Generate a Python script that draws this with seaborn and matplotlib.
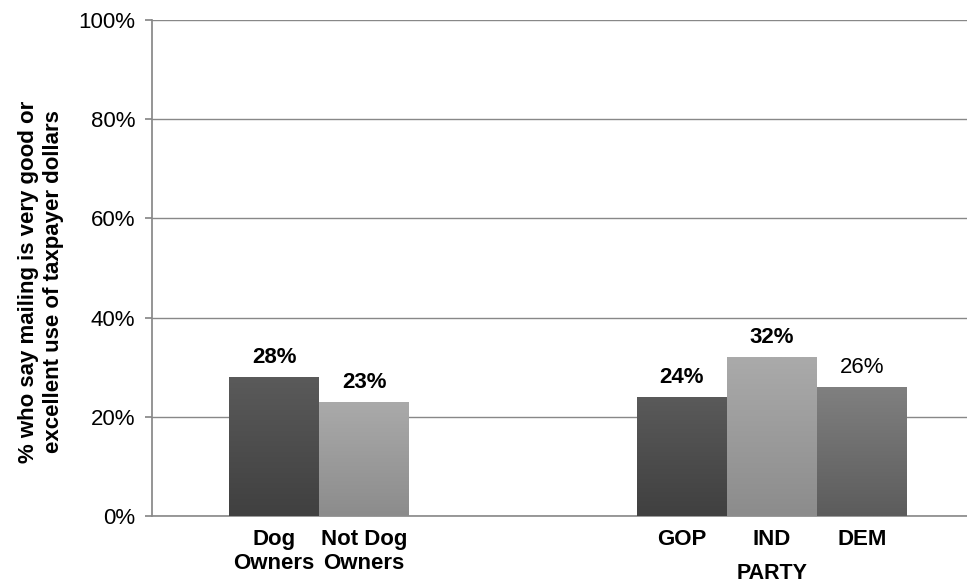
import numpy as np
import pandas as pd
import matplotlib
matplotlib.use('Agg')
import matplotlib.pyplot as plt
import seaborn as sns

sns.set_theme(style='white')
plt.rcParams['font.family'] = ['Liberation Sans', 'DejaVu Sans']
plt.rcParams['text.color'] = 'black'

categories = ['Dog\nOwners', 'Not Dog\nOwners', 'GOP', 'IND', 'DEM']
values = [28, 23, 24, 32, 26]
value_labels = ['28%', '23%', '24%', '32%', '26%']
label_bold = [True, True, True, True, False]
positions = [0, 1, 4.53, 5.53, 6.53]
# top / bottom shades of each bar's gradient
shade_top = ['#5a5a5a', '#aaaaaa', '#5a5a5a', '#aaaaaa', '#808080']
shade_bot = ['#404040', '#8c8c8c', '#404040', '#8c8c8c', '#5c5c5c']
yticks = [0, 20, 40, 60, 80, 100]

df = pd.DataFrame({'cat': categories, 'val': values, 'pos': positions})

fig, ax = plt.subplots(figsize=(9.67, 5.84), dpi=100)
fig.subplots_adjust(left=0.157, right=1.0, top=0.966, bottom=0.116)

sns.barplot(data=df, x='pos', y='val', hue='cat', palette=shade_top,
            native_scale=True, width=1.0, legend=False, ax=ax, zorder=3)

# gradient fill clipped to each bar
for i, bar in enumerate(ax.patches):
    x0, y0 = bar.get_x(), bar.get_y()
    w, h = bar.get_width(), bar.get_height()
    c1 = np.array(matplotlib.colors.to_rgb(shade_top[i]))
    c2 = np.array(matplotlib.colors.to_rgb(shade_bot[i]))
    t = np.linspace(0, 1, 64)[:, None]
    grad = (c1 * (1 - t) + c2 * t)[:, None, :]
    im = ax.imshow(grad, extent=[x0, x0 + w, y0, y0 + h], aspect='auto',
                   zorder=4, origin='upper')
    im.set_clip_path(bar)
    bar.set_edgecolor('none')

for p, v, lab, b in zip(positions, values, value_labels, label_bold):
    ax.text(p, v + 1.8, lab, ha='center', va='bottom', fontsize=16,
            fontweight='bold' if b else 'normal', color='black', zorder=5)

ax.set_xlim(-1.36, 7.7)
ax.set_ylim(0, 100)
ax.set_yticks(yticks)
ax.set_yticklabels([f'{t}%' for t in yticks], fontsize=16, color='black')
ax.yaxis.grid(True, color='#888888', linewidth=1, zorder=0)
ax.axhline(0, color='#888888', linewidth=1.2, zorder=2, clip_on=False)
ax.set_axisbelow(True)
ax.set_xticks(positions)
ax.set_xticklabels(categories, fontsize=16, fontweight='bold',
                   linespacing=1.2, color='black')
ax.tick_params(axis='x', length=0, pad=9)
ax.tick_params(axis='y', length=5, color='#888888', left=True, pad=7)

for s in ['top', 'right', 'bottom']:
    ax.spines[s].set_visible(False)
ax.spines['left'].set_color('#888888')

ax.set_xlabel('PARTY', fontsize=15.5, fontweight='bold', color='black')
ax.xaxis.set_label_coords((5.53 + 1.36) / (7.7 + 1.36), -0.095)
ax.set_ylabel('% who say mailing is very good or\nexcellent use of taxpayer dollars',
              fontsize=16, fontweight='bold', linespacing=1.25, color='black')
ax.yaxis.set_label_coords(-0.108, 0.472)

plt.savefig('out.png', dpi=100)
